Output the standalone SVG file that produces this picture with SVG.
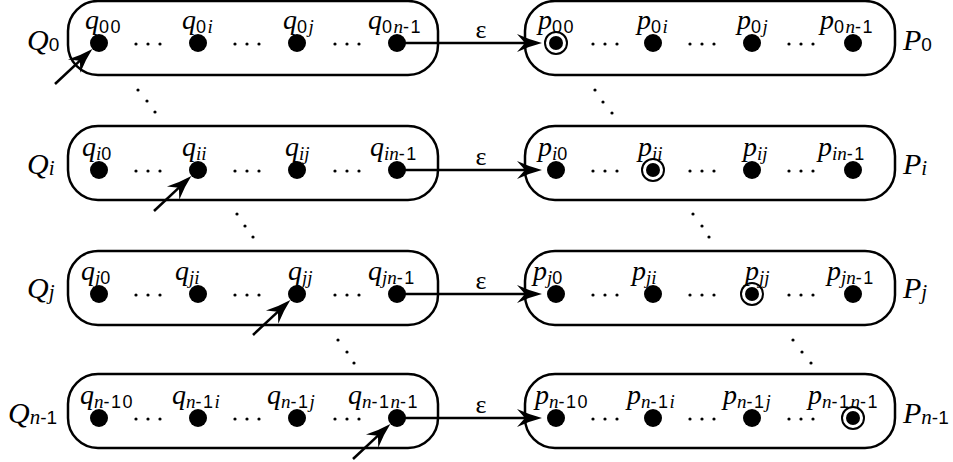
<svg xmlns="http://www.w3.org/2000/svg" width="953" height="462" viewBox="0 0 953 462">
<defs>
<style>
.box{fill:none;stroke:#000;stroke-width:2.5}
.st{fill:#000}
.acc{fill:none;stroke:#000;stroke-width:2}
.lb{font-family:'Liberation Serif','Times New Roman','DejaVu Serif',serif;font-style:italic;font-size:28px;fill:#000}
.big{font-size:30px}
.s{font-family:'Liberation Sans',Arial,sans-serif;font-style:normal;font-size:18px;letter-spacing:1.5px}
.si{font-size:19px}
.bs{font-family:'Liberation Sans',Arial,sans-serif;font-style:normal;font-size:19px}
.bsi{font-size:21px}
.eps{font-family:'Liberation Serif','Times New Roman','DejaVu Serif',serif;font-size:26px;fill:#000;text-anchor:middle}
.edge{fill:none;stroke:#000;stroke-width:2.5}
.dot{fill:#000}
</style>
<marker id="ah" markerUnits="userSpaceOnUse" viewBox="-20 -10 27 20" refX="0" refY="0" markerWidth="27" markerHeight="20" orient="auto">
<path d="M6,0 Q-6,-3 -19,-9 L-11,0 L-19,9 Q-6,3 6,0 Z" fill="#000"/>
</marker>
</defs>

<!-- Q boxes -->
<g id="Q0"><rect class="box" x="68" y="1" width="370" height="74" rx="30"/><text class="lb big" x="27" y="50">Q<tspan class="bs" dy="1">0</tspan></text></g>
<g id="Qi"><rect class="box" x="68" y="126" width="370" height="74" rx="30"/><text class="lb big" x="27" y="174">Q<tspan class="bsi" dy="1">i</tspan></text></g>
<g id="Qj"><rect class="box" x="68" y="251" width="370" height="74" rx="30"/><text class="lb big" x="27" y="298">Q<tspan class="bsi" dy="1">j</tspan></text></g>
<g id="Qn1"><rect class="box" x="68" y="374" width="370" height="74" rx="30"/><text class="lb big" x="8" y="423">Q<tspan class="bsi" dy="1">n</tspan><tspan class="bs">-1</tspan></text></g>

<!-- P boxes -->
<g id="P0"><rect class="box" x="525" y="1" width="370" height="74" rx="30"/><text class="lb big" x="903" y="50">P<tspan class="bs" dy="1">0</tspan></text></g>
<g id="Pi"><rect class="box" x="525" y="126" width="370" height="74" rx="30"/><text class="lb big" x="903" y="174">P<tspan class="bsi" dy="1">i</tspan></text></g>
<g id="Pj"><rect class="box" x="525" y="251" width="370" height="74" rx="30"/><text class="lb big" x="903" y="298">P<tspan class="bsi" dy="1">j</tspan></text></g>
<g id="Pn1"><rect class="box" x="525" y="374" width="370" height="74" rx="30"/><text class="lb big" x="903" y="423">P<tspan class="bsi" dy="1">n</tspan><tspan class="bs">-1</tspan></text></g>

<!-- row 0 states -->
<g id="q00"><circle class="st" cx="99" cy="43" r="9"/><text class="lb" x="85" y="29">q<tspan class="s" dy="4">00</tspan></text></g>
<g id="q0i"><circle class="st" cx="198" cy="43" r="9"/><text class="lb" x="182" y="29">q<tspan class="s" dy="4">0</tspan><tspan class="si">i</tspan></text></g>
<g id="q0j"><circle class="st" cx="297" cy="43" r="9"/><text class="lb" x="283" y="29">q<tspan class="s" dy="4">0</tspan><tspan class="si">j</tspan></text></g>
<g id="q0n1"><circle class="st" cx="397" cy="43" r="9"/><text class="lb" x="368" y="29">q<tspan class="s" dy="4">0</tspan><tspan class="si">n</tspan><tspan class="s">-1</tspan></text></g>
<g id="p00"><circle class="acc" cx="556" cy="43" r="11"/><circle class="st" cx="556" cy="43" r="7"/><text class="lb" x="538" y="29">p<tspan class="s" dy="4">00</tspan></text></g>
<g id="p0i"><circle class="st" cx="653" cy="43" r="9"/><text class="lb" x="637" y="29">p<tspan class="s" dy="4">0</tspan><tspan class="si">i</tspan></text></g>
<g id="p0j"><circle class="st" cx="752" cy="43" r="9"/><text class="lb" x="737" y="29">p<tspan class="s" dy="4">0</tspan><tspan class="si">j</tspan></text></g>
<g id="p0n1"><circle class="st" cx="853" cy="43" r="9"/><text class="lb" x="820" y="29">p<tspan class="s" dy="4">0</tspan><tspan class="si">n</tspan><tspan class="s">-1</tspan></text></g>

<!-- row i states -->
<g id="qi0"><circle class="st" cx="99" cy="170" r="9"/><text class="lb" x="82" y="156">q<tspan class="si" dy="4">i</tspan><tspan class="s">0</tspan></text></g>
<g id="qii"><circle class="st" cx="198" cy="170" r="9"/><text class="lb" x="182" y="156">q<tspan class="si" dy="4">ii</tspan></text></g>
<g id="qij"><circle class="st" cx="297" cy="170" r="9"/><text class="lb" x="285" y="156">q<tspan class="si" dy="4">ij</tspan></text></g>
<g id="qin1"><circle class="st" cx="397" cy="170" r="9"/><text class="lb" x="370" y="156">q<tspan class="si" dy="4">in</tspan><tspan class="s">-1</tspan></text></g>
<g id="pi0"><circle class="st" cx="556" cy="170" r="9"/><text class="lb" x="538" y="156">p<tspan class="si" dy="4">i</tspan><tspan class="s">0</tspan></text></g>
<g id="pii"><circle class="acc" cx="653" cy="170" r="11"/><circle class="st" cx="653" cy="170" r="7"/><text class="lb" x="638" y="156">p<tspan class="si" dy="4">ii</tspan></text></g>
<g id="pij"><circle class="st" cx="752" cy="170" r="9"/><text class="lb" x="743" y="156">p<tspan class="si" dy="4">ij</tspan></text></g>
<g id="pin1"><circle class="st" cx="853" cy="170" r="9"/><text class="lb" x="818" y="156">p<tspan class="si" dy="4">in</tspan><tspan class="s">-1</tspan></text></g>

<!-- row j states -->
<g id="qj0"><circle class="st" cx="99" cy="294" r="9"/><text class="lb" x="81" y="280">q<tspan class="si" dy="4">j</tspan><tspan class="s">0</tspan></text></g>
<g id="qji"><circle class="st" cx="198" cy="294" r="9"/><text class="lb" x="175" y="280">q<tspan class="si" dy="4">ji</tspan></text></g>
<g id="qjj"><circle class="st" cx="297" cy="294" r="9"/><text class="lb" x="288" y="280">q<tspan class="si" dy="4">jj</tspan></text></g>
<g id="qjn1"><circle class="st" cx="397" cy="294" r="9"/><text class="lb" x="368" y="280">q<tspan class="si" dy="4">jn</tspan><tspan class="s">-1</tspan></text></g>
<g id="pj0"><circle class="st" cx="556" cy="294" r="9"/><text class="lb" x="533" y="280">p<tspan class="si" dy="4">j</tspan><tspan class="s">0</tspan></text></g>
<g id="pji"><circle class="st" cx="653" cy="294" r="9"/><text class="lb" x="632" y="280">p<tspan class="si" dy="4">ji</tspan></text></g>
<g id="pjj"><circle class="acc" cx="752" cy="294" r="11"/><circle class="st" cx="752" cy="294" r="7"/><text class="lb" x="745" y="280">p<tspan class="si" dy="4">jj</tspan></text></g>
<g id="pjn1"><circle class="st" cx="853" cy="294" r="9"/><text class="lb" x="827" y="280">p<tspan class="si" dy="4">jn</tspan><tspan class="s">-1</tspan></text></g>

<!-- row n-1 states -->
<g id="qn10"><circle class="st" cx="99" cy="418" r="9"/><text class="lb" x="80" y="404">q<tspan class="si" dy="4">n</tspan><tspan class="s">-10</tspan></text></g>
<g id="qn1i"><circle class="st" cx="198" cy="418" r="9"/><text class="lb" x="172" y="404">q<tspan class="si" dy="4">n</tspan><tspan class="s">-1</tspan><tspan class="si">i</tspan></text></g>
<g id="qn1j"><circle class="st" cx="297" cy="418" r="9"/><text class="lb" x="267" y="404">q<tspan class="si" dy="4">n</tspan><tspan class="s">-1</tspan><tspan class="si">j</tspan></text></g>
<g id="qn1n1"><circle class="st" cx="397" cy="418" r="9"/><text class="lb" x="348" y="404">q<tspan class="si" dy="4">n</tspan><tspan class="s">-1</tspan><tspan class="si">n</tspan><tspan class="s">-1</tspan></text></g>
<g id="pn10"><circle class="st" cx="556" cy="418" r="9"/><text class="lb" x="535" y="404">p<tspan class="si" dy="4">n</tspan><tspan class="s">-10</tspan></text></g>
<g id="pn1i"><circle class="st" cx="653" cy="418" r="9"/><text class="lb" x="627" y="404">p<tspan class="si" dy="4">n</tspan><tspan class="s">-1</tspan><tspan class="si">i</tspan></text></g>
<g id="pn1j"><circle class="st" cx="752" cy="418" r="9"/><text class="lb" x="723" y="404">p<tspan class="si" dy="4">n</tspan><tspan class="s">-1</tspan><tspan class="si">j</tspan></text></g>
<g id="pn1n1"><circle class="acc" cx="853" cy="418" r="11"/><circle class="st" cx="853" cy="418" r="7"/><text class="lb" x="808" y="404">p<tspan class="si" dy="4">n</tspan><tspan class="s">-1</tspan><tspan class="si">n</tspan><tspan class="s">-1</tspan></text></g>

<!-- ellipsis dots -->
<g id="ellipses" class="dot">
<circle cx="136" cy="44" r="1.6"/><circle cx="148" cy="44" r="1.6"/><circle cx="160" cy="44" r="1.6"/>
<circle cx="235" cy="44" r="1.6"/><circle cx="247" cy="44" r="1.6"/><circle cx="259" cy="44" r="1.6"/>
<circle cx="335" cy="44" r="1.6"/><circle cx="347" cy="44" r="1.6"/><circle cx="359" cy="44" r="1.6"/>
<circle cx="593" cy="44" r="1.6"/><circle cx="605" cy="44" r="1.6"/><circle cx="617" cy="44" r="1.6"/>
<circle cx="690" cy="44" r="1.6"/><circle cx="702" cy="44" r="1.6"/><circle cx="714" cy="44" r="1.6"/>
<circle cx="789" cy="44" r="1.6"/><circle cx="801" cy="44" r="1.6"/><circle cx="813" cy="44" r="1.6"/>

<circle cx="136" cy="171" r="1.6"/><circle cx="148" cy="171" r="1.6"/><circle cx="160" cy="171" r="1.6"/>
<circle cx="235" cy="171" r="1.6"/><circle cx="247" cy="171" r="1.6"/><circle cx="259" cy="171" r="1.6"/>
<circle cx="335" cy="171" r="1.6"/><circle cx="347" cy="171" r="1.6"/><circle cx="359" cy="171" r="1.6"/>
<circle cx="593" cy="171" r="1.6"/><circle cx="605" cy="171" r="1.6"/><circle cx="617" cy="171" r="1.6"/>
<circle cx="690" cy="171" r="1.6"/><circle cx="702" cy="171" r="1.6"/><circle cx="714" cy="171" r="1.6"/>
<circle cx="789" cy="171" r="1.6"/><circle cx="801" cy="171" r="1.6"/><circle cx="813" cy="171" r="1.6"/>

<circle cx="136" cy="295" r="1.6"/><circle cx="148" cy="295" r="1.6"/><circle cx="160" cy="295" r="1.6"/>
<circle cx="235" cy="295" r="1.6"/><circle cx="247" cy="295" r="1.6"/><circle cx="259" cy="295" r="1.6"/>
<circle cx="335" cy="295" r="1.6"/><circle cx="347" cy="295" r="1.6"/><circle cx="359" cy="295" r="1.6"/>
<circle cx="593" cy="295" r="1.6"/><circle cx="605" cy="295" r="1.6"/><circle cx="617" cy="295" r="1.6"/>
<circle cx="690" cy="295" r="1.6"/><circle cx="702" cy="295" r="1.6"/><circle cx="714" cy="295" r="1.6"/>
<circle cx="789" cy="295" r="1.6"/><circle cx="801" cy="295" r="1.6"/><circle cx="813" cy="295" r="1.6"/>

<circle cx="136" cy="419" r="1.6"/><circle cx="148" cy="419" r="1.6"/><circle cx="160" cy="419" r="1.6"/>
<circle cx="235" cy="419" r="1.6"/><circle cx="247" cy="419" r="1.6"/><circle cx="259" cy="419" r="1.6"/>
<circle cx="335" cy="419" r="1.6"/><circle cx="347" cy="419" r="1.6"/><circle cx="359" cy="419" r="1.6"/>
<circle cx="593" cy="419" r="1.6"/><circle cx="605" cy="419" r="1.6"/><circle cx="617" cy="419" r="1.6"/>
<circle cx="690" cy="419" r="1.6"/><circle cx="702" cy="419" r="1.6"/><circle cx="714" cy="419" r="1.6"/>
<circle cx="789" cy="419" r="1.6"/><circle cx="801" cy="419" r="1.6"/><circle cx="813" cy="419" r="1.6"/>

<!-- diagonal dots -->
<circle cx="138" cy="90" r="1.6"/><circle cx="147" cy="101" r="1.6"/><circle cx="155" cy="112" r="1.6"/>
<circle cx="237" cy="214" r="1.6"/><circle cx="245" cy="226" r="1.6"/><circle cx="253" cy="237" r="1.6"/>
<circle cx="338" cy="340" r="1.6"/><circle cx="347" cy="352" r="1.6"/><circle cx="354" cy="363" r="1.6"/>
<circle cx="595" cy="90" r="1.6"/><circle cx="603" cy="102" r="1.6"/><circle cx="612" cy="113" r="1.6"/>
<circle cx="693" cy="214" r="1.6"/><circle cx="702" cy="226" r="1.6"/><circle cx="709" cy="237" r="1.6"/>
<circle cx="793" cy="340" r="1.6"/><circle cx="802" cy="352" r="1.6"/><circle cx="811" cy="363" r="1.6"/>
</g>

<!-- connectors -->
<g id="connectors">
<path class="edge" d="M397,43 H536" marker-end="url(#ah)"/>
<path class="edge" d="M397,170 H536" marker-end="url(#ah)"/>
<path class="edge" d="M397,294 H536" marker-end="url(#ah)"/>
<path class="edge" d="M397,418 H536" marker-end="url(#ah)"/>
<text class="eps" x="481" y="38">ε</text>
<text class="eps" x="481" y="165">ε</text>
<text class="eps" x="481" y="289">ε</text>
<text class="eps" x="481" y="413">ε</text>
<path class="edge" d="M55,84 L88,53.2" marker-end="url(#ah)"/>
<path class="edge" d="M154,211 L187,180.2" marker-end="url(#ah)"/>
<path class="edge" d="M253,335 L286,304.2" marker-end="url(#ah)"/>
<path class="edge" d="M353,459 L386,428.2" marker-end="url(#ah)"/>
</g>
</svg>
